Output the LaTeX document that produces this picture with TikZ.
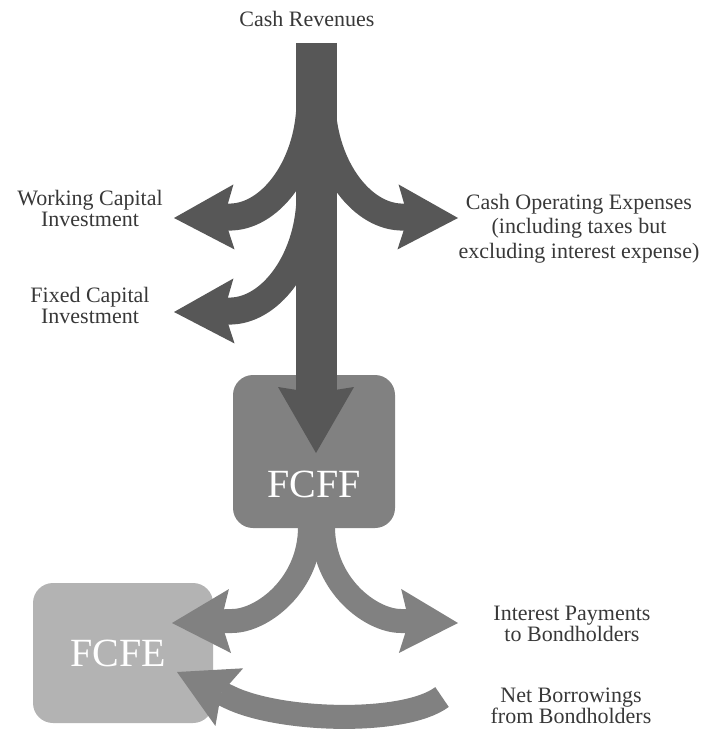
\documentclass[tikz,border=0pt]{standalone}
\usepackage{fontspec}
\setmainfont{Liberation Serif}
\usetikzlibrary{positioning,arrows.meta}

\definecolor{flowdark}{HTML}{575757}
\definecolor{flowmid}{HTML}{818181}
\definecolor{flowlight}{HTML}{B3B3B3}
\definecolor{labelgray}{HTML}{383838}

\begin{document}
\begin{tikzpicture}[
    x=1pt, y=-1pt,
    flowtext/.style={align=center, inner sep=0pt, text=labelgray, font=\fontsize{22}{21}\selectfont},
    cashbox/.style={rounded corners=20pt, inner sep=0pt},
    boxtext/.style={inner sep=0pt, text=white, font=\fontsize{40}{40}\selectfont},
    flow/.style={line cap=butt, line join=round},
    bigflow/.style={flow, draw=flowdark, line width=41pt, -{Stealth[length=66pt, width=76pt, inset=6pt, line width=0pt]}},
    darkflow/.style={flow, draw=flowdark, line width=27pt, -{Stealth[length=60pt, width=65pt, inset=10pt, line width=0pt]}},
    midflow/.style={flow, draw=flowmid, line width=24pt, -{Stealth[length=58pt, width=64pt, inset=9pt, line width=0pt]}}
]

\useasboundingbox (0,0) rectangle (704,730);

% Boxes
\node[cashbox, fill=flowmid, minimum width=162pt, minimum height=153pt] (fcff) at (314,451.5) {};
\node[cashbox, fill=flowlight, minimum width=180pt, minimum height=140pt] (fcfe) at (123,653) {};

% Labels
\node[flowtext, anchor=base] (revenues) at (307,27) {Cash Revenues};
\node[flowtext, anchor=north] (workcap) at (90,190) {Working Capital\\Investment};
\node[flowtext, anchor=north] (fixcap) at (90,287) {Fixed Capital\\Investment};
\node[flowtext, anchor=north, font=\fontsize{22}{24.5}\selectfont] (opex) at (579,194)
    {Cash Operating Expenses\\(including taxes but\\excluding interest expense)};
\node[flowtext, anchor=north] (interest) at (572,606) {Interest Payments\\to Bondholders};
\node[flowtext, anchor=north] (borrow) at (571,688) {Net Borrowings\\from Bondholders};

% Points where the flows start, bend and end
\coordinate (stemtop) at (316,43);
\coordinate (stemtip) at (316,453);
\coordinate (opexsplit) at (322,100);
\coordinate (opexbend) at (400,217);
\coordinate (opextip) at (458,218);
\coordinate (wcsplit) at (310,100);
\coordinate (wcbend) at (232,217);
\coordinate (wctip) at (174,218);
\coordinate (fcsplit) at (310,194);
\coordinate (fcbend) at (232,311);
\coordinate (fctip) at (174,312);
\coordinate (equitysplit) at (310,527);
\coordinate (equitybend) at (232,621);
\coordinate (equitytip) at (172,623);
\coordinate (debtsplit) at (323,527);
\coordinate (debtbend) at (401,621);
\coordinate (debttip) at (458,623);
\coordinate (borrowtail) at (442,697);
\coordinate (borrowbend) at (229,697);
\coordinate (borrowtip) at (177,672);

% Cash revenues split into uses and FCFF
\draw[darkflow] (opexsplit) .. controls +(0,63) and +(-41,-2) .. (opexbend) -- (opextip);
\draw[darkflow] (wcsplit) .. controls +(0,63) and +(41,-2) .. (wcbend) -- (wctip);
\draw[darkflow] (fcsplit) .. controls +(0,63) and +(41,-2) .. (fcbend) -- (fctip);
\draw[bigflow] (stemtop) -- (stemtip);

% FCFF split into FCFE and interest
\draw[midflow] (equitysplit) .. controls +(0,58) and +(30,0) .. (equitybend) -- (equitytip);
\draw[midflow] (debtsplit) .. controls +(0,58) and +(-30,0) .. (debtbend) -- (debttip);
\draw[midflow] (borrowtail) .. controls +(-37,28) and +(51,25) .. (borrowbend) -- (borrowtip);

% Box texts
\node[boxtext, above=30pt of fcff.south] (fcfftext) {FCFF};
\node[boxtext] (fcfetext) at (118,653) {FCFE};

\end{tikzpicture}
\end{document}
